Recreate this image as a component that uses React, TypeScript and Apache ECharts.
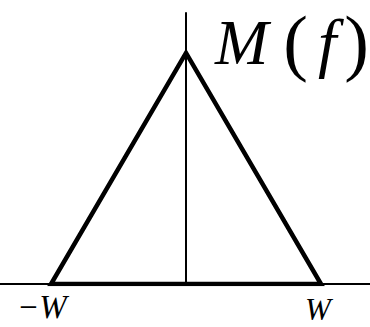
import React, { useEffect, useRef } from "react";
import * as echarts from "echarts";

// Triangle spectrum M(f): band-limited to [-W, W], W = 1
const triangleX = [0, 1, 0, -1, 0];
const triangleY = [0, 0, 1, 0, 0];
const xRange = [-1.378, 1.363];
const yRange = [0, 1.173];
const labelLeft = "−W";
const labelRight = "W";
const labelTitle = ["M", "(", "f", ")"];

export default function App() {
  const ref = useRef<HTMLDivElement>(null);
  useEffect(() => {
    if (!ref.current) return;
    const chart = echarts.init(ref.current, null, { renderer: "svg" });
    const data = triangleX.map((x, i) => [x, triangleY[i]]);
    const serif = "Liberation Serif";
    chart.setOption({
      animation: false,
      backgroundColor: "#fff",
      grid: { left: 0, right: 0, top: 13, bottom: 43, containLabel: false },
      xAxis: {
        type: "value",
        min: xRange[0],
        max: xRange[1],
        axisLine: { show: true, onZero: true, lineStyle: { color: "#000", width: 2 } },
        axisTick: { show: false },
        axisLabel: { show: false },
        splitLine: { show: false },
      },
      yAxis: {
        type: "value",
        min: yRange[0],
        max: yRange[1],
        axisLine: { show: true, onZero: true, lineStyle: { color: "#000", width: 2 } },
        axisTick: { show: false },
        axisLabel: { show: false },
        splitLine: { show: false },
      },
      series: [
        {
          type: "line",
          data,
          symbol: "none",
          lineStyle: { color: "#000", width: 4.5, join: "miter", cap: "butt" },
          z: 5,
        },
      ],
      graphic: [
        {
          type: "text",
          x: 17,
          y: 307,
          style: {
            text: labelLeft,
            fontFamily: serif,
            fontStyle: "italic",
            fontSize: 33,
            fill: "#000",
            textAlign: "left",
            textVerticalAlign: "middle",
          },
        },
        {
          type: "text",
          x: 305,
          y: 309,
          style: {
            text: labelRight,
            fontFamily: serif,
            fontStyle: "italic",
            fontSize: 31,
            lineHeight: 22,
            fill: "#000",
            textAlign: "left",
            textVerticalAlign: "middle",
          },
        },
        {
          type: "text",
          x: 215,
          y: 42,
          style: {
            text: `{m|${labelTitle[0]}}{p|${labelTitle[1]}}{f|${labelTitle[2]}}{q|${labelTitle[3]}}`,
            fill: "#000",
            textAlign: "left",
            textVerticalAlign: "middle",
            rich: {
              m: { fontFamily: serif, fontStyle: "italic", fontSize: 64, padding: [0, 15, 0, 0], fill: "#000" },
              p: { fontFamily: serif, fontSize: 74, padding: [0, 10, 0, 0], fill: "#000" },
              f: { fontFamily: serif, fontStyle: "italic", fontSize: 66, padding: [0, 8, 0, 0], fill: "#000" },
              q: { fontFamily: serif, fontSize: 74, fill: "#000" },
            },
          },
        },
      ],
    });
    return () => chart.dispose();
  }, []);
  return (
    <div
      ref={ref}
      style={{ position: "fixed", left: 0, top: 0, width: 370, height: 327 }}
    />
  );
}
